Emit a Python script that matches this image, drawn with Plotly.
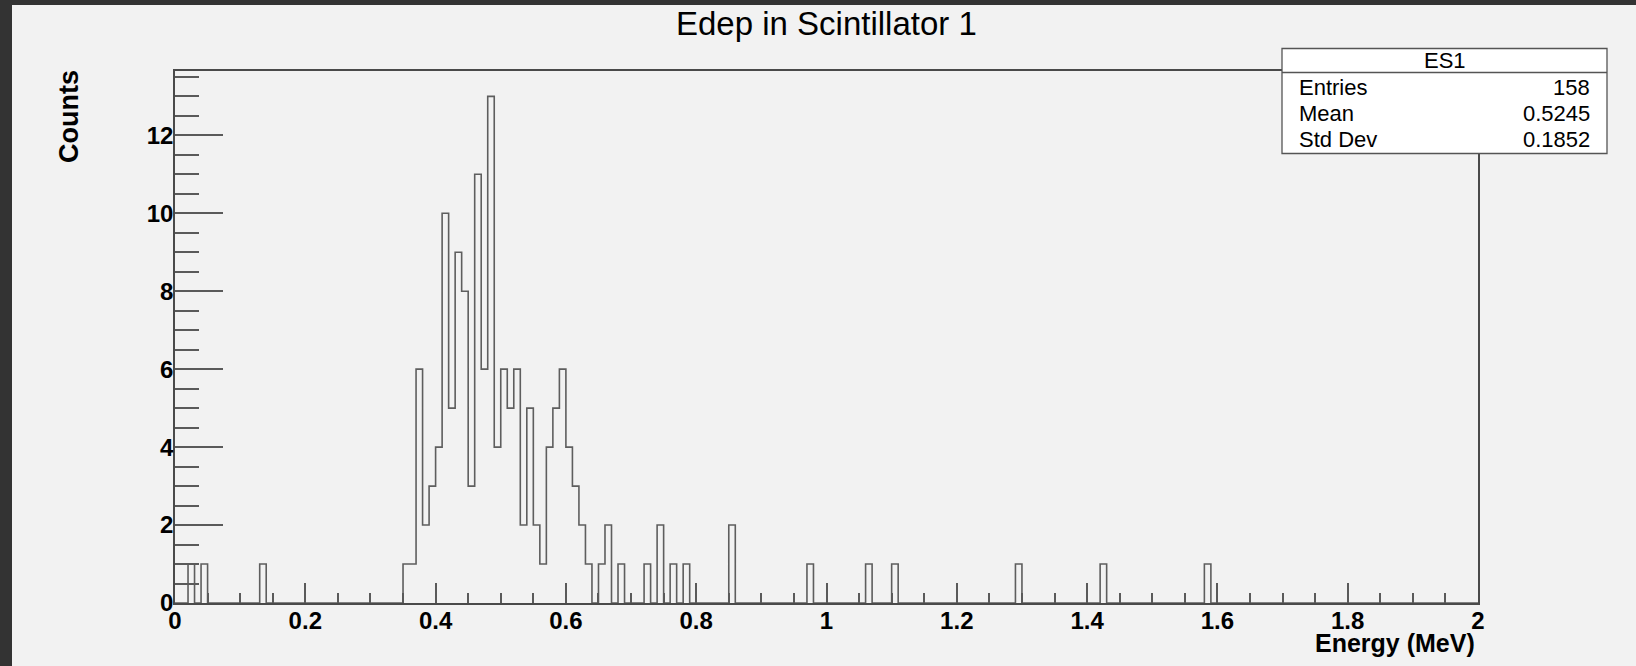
import numpy as np
import plotly.graph_objects as go

# ---------------- data ----------------
n_bins = 200
e_min, e_max = 0.0, 2.0
bin_width = 0.01
# low edges (MeV) of the non-empty bins and their contents
bin_low = [0.02, 0.04, 0.13,
           0.35, 0.36, 0.37, 0.38, 0.39, 0.40, 0.41, 0.42, 0.43, 0.44, 0.45,
           0.46, 0.47, 0.48, 0.49, 0.50, 0.51, 0.52, 0.53, 0.54, 0.55, 0.56,
           0.57, 0.58, 0.59, 0.60, 0.61, 0.62, 0.63,
           0.65, 0.66, 0.68, 0.72, 0.74, 0.76, 0.78, 0.85, 0.97, 1.06, 1.10,
           1.29, 1.42, 1.58]
counts = [1, 1, 1,
          1, 1, 6, 2, 3, 4, 10, 5, 9, 8, 3,
          11, 6, 13, 4, 6, 5, 6, 2, 5, 2, 1,
          4, 5, 6, 4, 3, 2, 1,
          1, 2, 1, 1, 2, 1, 1, 2, 1, 1, 1,
          1, 1, 1]
stat_names = ["Entries", "Mean", "Std Dev"]
stat_values = ["158", "0.5245", "0.1852"]
hist_name = "ES1"
title_text = "Edep in Scintillator 1"
x_title = "Energy (MeV)"
y_title = "Counts"
y_max = 13.65

# ---------------- build histogram outline ----------------
edges = np.linspace(e_min, e_max, n_bins + 1)
h = np.zeros(n_bins)
idx = np.rint((np.array(bin_low) - e_min) / bin_width).astype(int)
h[idx] = counts
xs = edges
ys = np.append(h, h[-1])

# ---------------- layout geometry (pixels) ----------------
W, H = 1636, 666
L, R, T, B = 175, 1478, 71, 603
pw, ph = R - L, B - T


def px(x):
    return (x - L) / pw


def py(y):
    return (B - y) / ph


fig = go.Figure()
fig.add_trace(go.Scatter(x=xs, y=ys, mode="lines", line_shape="hv",
                         line=dict(color="#5e5e5e", width=1.6),
                         showlegend=False, hoverinfo="skip"))

axis_line = "#4a4a4a"
tick_col = "#5a5a5a"
tfont = dict(family="Liberation Sans, Arial, sans-serif", size=24,
             color="black", weight="bold")

fig.update_layout(
    width=W, height=H,
    margin=dict(l=L, r=W - R, t=T, b=H - B),
    paper_bgcolor="#f2f2f2", plot_bgcolor="#f2f2f2",
    showlegend=False,
    xaxis=dict(range=[e_min, e_max], showgrid=False, zeroline=False,
               showline=True, linecolor=axis_line, linewidth=1.6, mirror=True,
               ticks="inside", ticklen=20, tickwidth=1.5, tickcolor=tick_col,
               dtick=0.2, tick0=0, tickfont=tfont, ticklabelstandoff=-5,
               tickformat="~g",
               minor=dict(ticks="inside", ticklen=10, dtick=0.05, tick0=0,
                          tickwidth=1.5, tickcolor=tick_col, showgrid=False)),
    yaxis=dict(range=[0, y_max], showgrid=False, zeroline=False,
               showline=True, linecolor=axis_line, linewidth=1.6, mirror=True,
               ticks="inside", ticklen=48, tickwidth=1.5, tickcolor=tick_col,
               dtick=2, tick0=0, tickfont=tfont, ticklabelstandoff=-5,
               minor=dict(ticks="inside", ticklen=24, dtick=0.5, tick0=0,
                          tickwidth=1.5, tickcolor=tick_col, showgrid=False)),
)

shapes = []
# dark window border (top and left)
shapes.append(dict(type="rect", xref="paper", yref="paper",
                   x0=px(0), x1=px(W), y0=py(0), y1=py(5),
                   fillcolor="#333333", line=dict(width=0), layer="above"))
shapes.append(dict(type="rect", xref="paper", yref="paper",
                   x0=px(0), x1=px(12), y0=py(H), y1=py(0),
                   fillcolor="#333333", line=dict(width=0), layer="above"))
# stats box
bx0, bx1, by0, by1, bsep = 1282, 1607, 48.5, 153.5, 72.5
shapes.append(dict(type="rect", xref="paper", yref="paper",
                   x0=px(bx0), x1=px(bx1), y0=py(by1), y1=py(by0),
                   fillcolor="white", line=dict(color="#555555", width=1.3),
                   layer="above"))
shapes.append(dict(type="line", xref="paper", yref="paper",
                   x0=px(bx0), x1=px(bx1), y0=py(bsep), y1=py(bsep),
                   line=dict(color="#555555", width=1.3), layer="above"))
fig.update_layout(shapes=shapes)

sfont = dict(family="Liberation Sans, Arial, sans-serif", size=22, color="black")
ann = []
ann.append(dict(text=hist_name, x=px((bx0 + bx1) / 2), y=py(61), xref="paper",
                yref="paper", xanchor="center", yanchor="middle",
                showarrow=False, font=sfont))
row_y = [87, 113, 139]
for name, val, ry in zip(stat_names, stat_values, row_y):
    ann.append(dict(text=name, x=px(1297), y=py(ry), xref="paper", yref="paper",
                    xanchor="left", yanchor="middle", showarrow=False, font=sfont))
    ann.append(dict(text=val, x=px(1592), y=py(ry), xref="paper", yref="paper",
                    xanchor="right", yanchor="middle", showarrow=False, font=sfont))
# title
ann.append(dict(text=title_text, x=px(826), y=py(24), xref="paper", yref="paper",
                xanchor="center", yanchor="middle", showarrow=False,
                font=dict(family="Liberation Sans, Arial, sans-serif", size=33,
                          color="black")))
# axis titles
ann.append(dict(text=y_title, x=px(69), y=py(117), xref="paper", yref="paper",
                xanchor="center", yanchor="middle", textangle=-90,
                showarrow=False,
                font=dict(family="Liberation Sans, Arial, sans-serif", size=27,
                          color="black", weight="bold")))
ann.append(dict(text=x_title, x=px(1477), y=py(643), xref="paper", yref="paper",
                xanchor="right", yanchor="middle", showarrow=False,
                font=dict(family="Liberation Sans, Arial, sans-serif", size=25,
                          color="black", weight="bold")))
fig.update_layout(annotations=ann)

fig.write_html("out.html",
               config={"displayModeBar": False},
               post_script="document.body.style.margin='0';"
                           "document.body.style.overflow='hidden';")
